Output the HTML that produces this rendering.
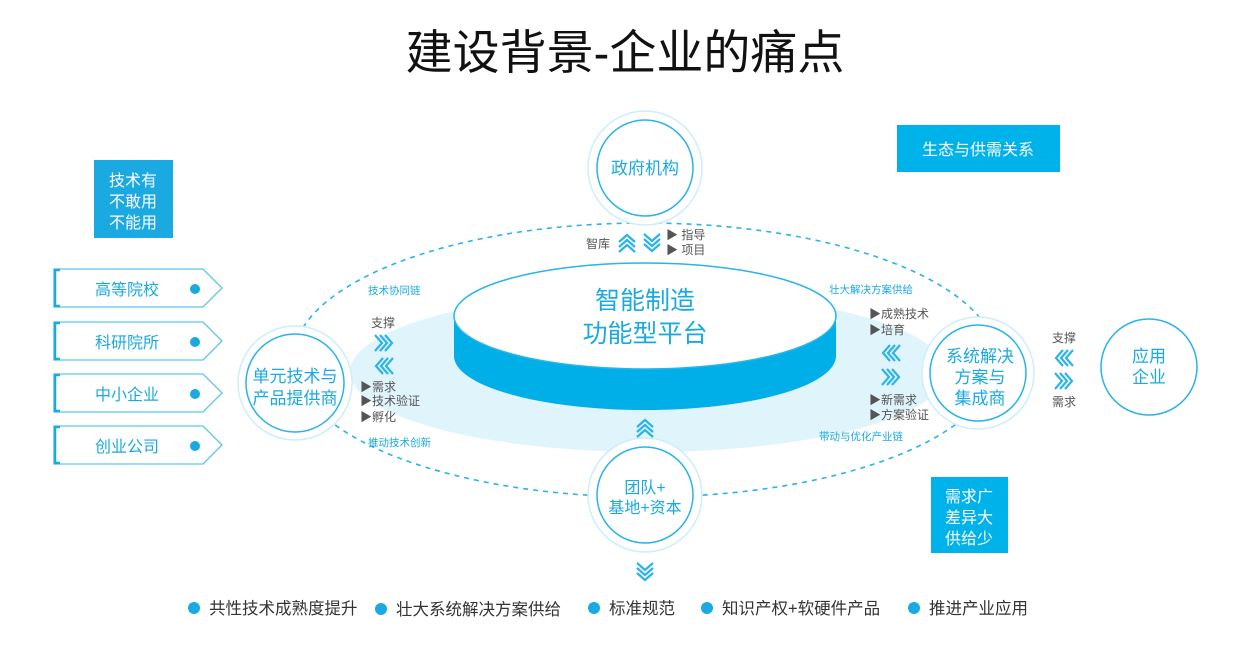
<!DOCTYPE html>
<html><head><meta charset="utf-8"><style>
html,body{margin:0;padding:0;background:#fff;}
svg{display:block;font-family:"Liberation Sans","Noto Sans CJK SC",sans-serif;}
</style></head><body>
<svg width="1250" height="650" viewBox="0 0 1250 650" xmlns="http://www.w3.org/2000/svg">
<defs>
<g id="chev" fill="none" stroke="#2ab4e8" stroke-width="2.2">
<polyline points="-9,-8 -2,0 -9,8"/><polyline points="-4,-8 3,0 -4,8"/><polyline points="1,-8 8,0 1,8"/>
</g>
</defs>
<text x="625" y="69" font-size="47" text-anchor="middle" fill="#111">建设背景-企业的痛点</text>

<ellipse cx="648" cy="372" rx="298" ry="80" fill="#e0f4fc"/>
<ellipse cx="645" cy="360" rx="352" ry="137" fill="none" stroke="#2ab4e8" stroke-width="1.6" stroke-dasharray="5,5"/>

<path d="M454,316 L454,356 A191,54 0 0 0 836,356 L836,316 Z" fill="#00aee8"/>
<ellipse cx="645" cy="316" rx="191" ry="53" fill="#fff" stroke="#2ab4e8" stroke-width="1.5"/>
<text x="645" y="309" font-size="25" text-anchor="middle" fill="#1aa9e1">智能制造</text>
<text x="645" y="342" font-size="25" text-anchor="middle" fill="#1aa9e1">功能型平台</text>

<g fill="#fff" stroke-width="1.5">
<circle cx="645" cy="168" r="57" stroke="#cdeefa"/><circle cx="645" cy="168" r="48" stroke="#2ab4e8"/>
<circle cx="295" cy="383" r="57" stroke="#cdeefa"/><circle cx="295" cy="383" r="49" stroke="#2ab4e8"/>
<circle cx="978" cy="373" r="56" stroke="#cdeefa"/><circle cx="978" cy="373" r="48" stroke="#2ab4e8"/>
<circle cx="1149" cy="367" r="48" stroke="#2ab4e8"/>
<circle cx="645" cy="495" r="57" stroke="#cdeefa"/><circle cx="645" cy="495" r="48" stroke="#2ab4e8"/>
</g>
<g fill="#1aa9e1" text-anchor="middle">
<text x="645" y="174" font-size="17">政府机构</text>
<text x="295" y="382" font-size="17">单元技术与</text><text x="295" y="404" font-size="17">产品提供商</text>
<text x="980" y="362" font-size="17">系统解决</text><text x="980" y="383" font-size="17">方案与</text><text x="980" y="404" font-size="17">集成商</text>
<text x="1149" y="362" font-size="17">应用</text><text x="1149" y="383" font-size="17">企业</text>
<text x="645" y="493" font-size="16">团队+</text><text x="645" y="513" font-size="16">基地+资本</text>
</g>

<rect x="94" y="160" width="79" height="78" fill="#1aa9e1"/>
<g fill="#fff" font-size="16" text-anchor="middle"><text x="133" y="186">技术有</text><text x="133" y="207">不敢用</text><text x="133" y="228">不能用</text></g>
<rect x="897" y="125" width="163" height="47" fill="#00b2ea"/>
<text x="978" y="155" font-size="16" fill="#fff" text-anchor="middle">生态与供需关系</text>
<rect x="931" y="477" width="77" height="76" fill="#00b2ea"/>
<g fill="#fff" font-size="16" text-anchor="middle"><text x="969" y="502">需求广</text><text x="969" y="523">差异大</text><text x="969" y="544">供给少</text></g>

<g fill="#fff" stroke="#5cc6ee" stroke-width="1.3">
<path d="M54,269 H203 L222,288 L203,307 H54 Z"/>
<path d="M54,322 H203 L222,341 L203,360 H54 Z"/>
<path d="M54,374 H203 L222,393 L203,412 H54 Z"/>
<path d="M54,426 H203 L222,445 L203,464 H54 Z"/>
</g>
<g fill="none" stroke="#1aa9e1" stroke-width="2.5">
<path d="M60,270 H55 V306 H60"/><path d="M60,323 H55 V359 H60"/><path d="M60,375 H55 V411 H60"/><path d="M60,427 H55 V463 H60"/>
</g>
<g fill="#1aa9e1" stroke="none"><circle cx="195" cy="289" r="5"/><circle cx="195" cy="342" r="5"/><circle cx="195" cy="394" r="5"/><circle cx="195" cy="446" r="5"/></g>
<g fill="#1aa9e1" font-size="16" text-anchor="middle">
<text x="127" y="295">高等院校</text><text x="127" y="348">科研院所</text><text x="127" y="400">中小企业</text><text x="127" y="452">创业公司</text>
</g>

<use href="#chev" transform="translate(384,343)"/>
<use href="#chev" transform="translate(384,366) rotate(180)"/>
<use href="#chev" transform="translate(627,243) rotate(-90)"/>
<use href="#chev" transform="translate(652,243) rotate(90)"/>
<use href="#chev" transform="translate(891,353) rotate(180)"/>
<use href="#chev" transform="translate(891,377)"/>
<use href="#chev" transform="translate(1064,358) rotate(180)"/>
<use href="#chev" transform="translate(1064,381)"/>
<use href="#chev" transform="translate(645,428) rotate(-90)"/>
<use href="#chev" transform="translate(645,572) rotate(90)"/>

<g fill="#555" font-size="12">
<text x="383" y="327" text-anchor="middle">支撑</text>
<text x="360" y="391">▶需求</text><text x="360" y="405">▶技术验证</text><text x="360" y="421">▶孵化</text>
<text x="586" y="248">智库</text>
<text x="666" y="239">▶ 指导</text><text x="666" y="254">▶ 项目</text>
<text x="869" y="318">▶成熟技术</text><text x="869" y="334">▶培育</text>
<text x="869" y="404">▶新需求</text><text x="869" y="419">▶方案验证</text>
<text x="1064" y="342" text-anchor="middle">支撑</text>
<text x="1064" y="406" text-anchor="middle">需求</text>
</g>
<g fill="#1aa9e1" font-size="10.5">
<text x="368" y="294">技术协同链</text>
<text x="368" y="446">推动技术创新</text>
<text x="829" y="293">壮大解决方案供给</text>
<text x="819" y="440">带动与优化产业链</text>
</g>

<g fill="#1aa9e1"><circle cx="194" cy="608" r="6"/><circle cx="381" cy="609" r="6"/><circle cx="594" cy="608" r="6"/><circle cx="707" cy="608" r="6"/><circle cx="914" cy="608" r="6"/></g>
<g fill="#333" font-size="16.5">
<text x="209" y="614">共性技术成熟度提升</text>
<text x="396" y="615">壮大系统解决方案供给</text>
<text x="609" y="614">标准规范</text>
<text x="722" y="614">知识产权+软硬件产品</text>
<text x="929" y="614">推进产业应用</text>
</g>
</svg>
</body></html>
